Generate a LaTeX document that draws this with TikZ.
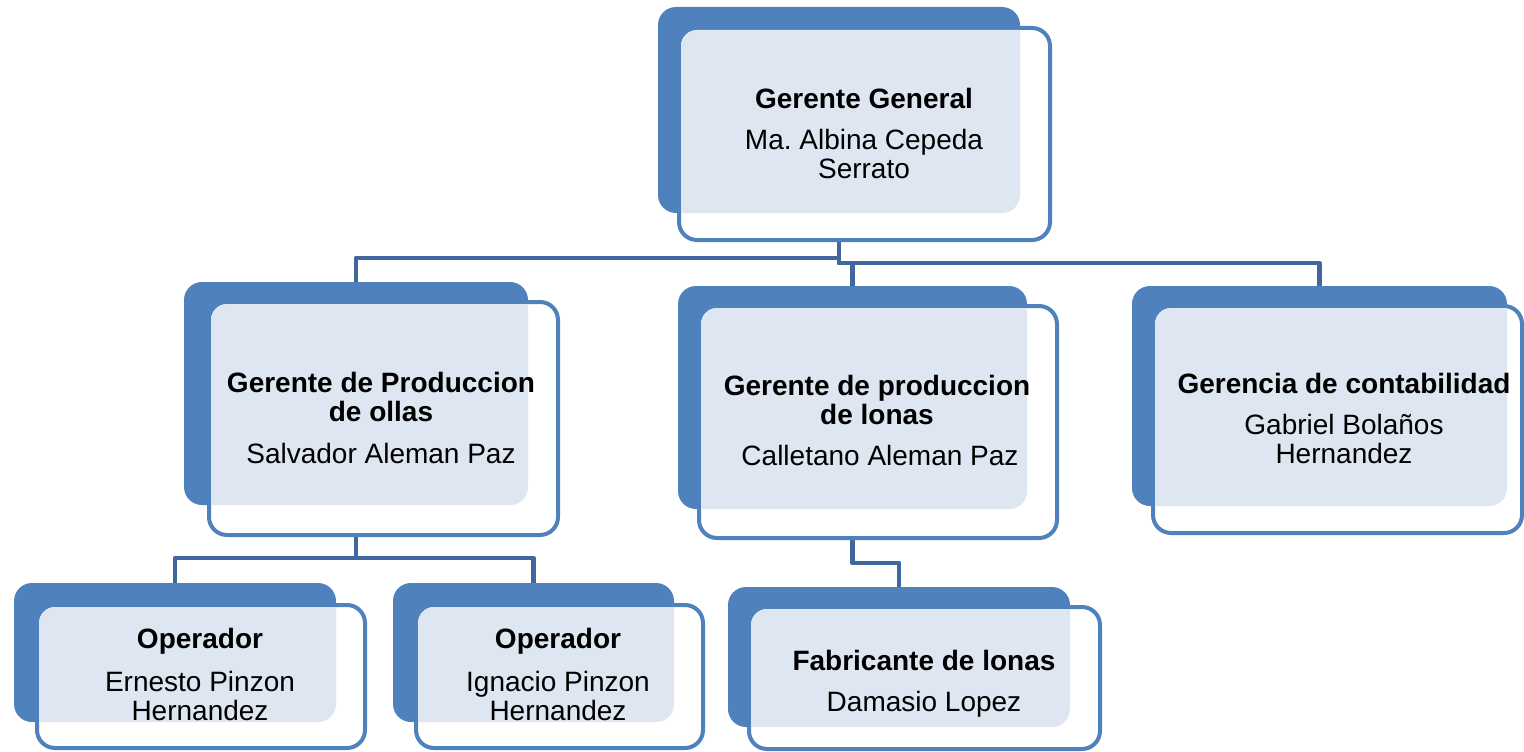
\documentclass[tikz,border=0pt]{standalone}
\usepackage{fontspec}
\setmainfont{Liberation Sans}
\frenchspacing
\pgfdeclarelayer{bg}
\pgfsetlayers{bg,main}
\definecolor{boxblue}{RGB}{79,129,189}
\definecolor{connblue}{RGB}{64,104,156}
\definecolor{patblue}{RGB}{221,230,241}
\tikzset{
  backbox/.style={rectangle, rounded corners=18pt, fill=boxblue, draw=none, inner sep=0pt, outer sep=0pt},
  frontbox/.style={rectangle, rounded corners=18pt, fill=white, draw=boxblue, line width=4pt, inner sep=0pt, outer sep=0pt},
  patfill/.style={fill=patblue},
  conn/.style={draw=connblue, line width=4.5pt, line join=round},
  ttl/.style={anchor=base, inner sep=0pt, font=\fontsize{28}{29}\selectfont\bfseries},
  txt/.style={anchor=base, inner sep=0pt, font=\fontsize{28}{29}\selectfont},
}
\newcommand\orgunit[9]{%
  \node[backbox, minimum width=#4pt, minimum height=#5pt] (#1b) at (#2,#3) {};
  \node[frontbox, minimum width=#8pt, minimum height=#9pt] (#1f) at (#6,#7) {};
  \begin{scope}
    \clip[rounded corners=18pt] (#1b.south west) rectangle (#1b.north east);
    \fill[patfill, rounded corners=16pt] ([shift={(2pt,2pt)}]#1f.south west) rectangle ([shift={(-2pt,-2pt)}]#1f.north east);
  \end{scope}%
}
\begin{document}
\begin{tikzpicture}[x=1pt,y=-1pt]
\useasboundingbox (0,0) rectangle (1524,752);

\coordinate (h1) at (0,258);
\coordinate (h2) at (0,263);
\coordinate (h3) at (0,558);
\coordinate (h4) at (0,563);

% boxes
\orgunit{T}{839}{110}{362}{206}{864.5}{134}{371}{212}
\orgunit{PA}{356}{393.5}{344}{223}{383.5}{418.5}{349}{233}
\orgunit{PB}{852.5}{397.5}{349}{223}{878}{422}{358}{232}
\orgunit{PC}{1319.5}{396}{375}{220}{1337.5}{419.5}{369}{227}
\orgunit{OA}{175}{652.5}{322}{139}{201}{676.5}{328}{143}
\orgunit{OB}{533.5}{652.5}{281}{139}{559.5}{676.5}{287}{143}
\orgunit{FA}{899}{657}{342}{140}{924.5}{678}{351}{142}

% connectors
\begin{pgfonlayer}{bg}
\fill[white] (0,0) rectangle (1524,752);
\draw[conn] (Tb.center) |- (PAb.north |- h1) -- (PAb.north);
\draw[conn] (Tb.center) |- (PBb.north |- h2) -- (PBb.north);
\draw[conn] (Tb.center) |- (PCb.north |- h2) -- (PCb.north);
\draw[conn] (PAb.center) |- (OAb.north |- h3) -- (OAb.north);
\draw[conn] (PAb.center) |- (OBb.north |- h3) -- (OBb.north);
\draw[conn] (PBb.center) |- (FAb.north |- h4) -- (FAb.north);
\end{pgfonlayer}

% texts
\node[ttl] (t1) at (864,109) {Gerente General};
\node[txt] (t2) at (864,149) {Ma. Albina Cepeda};
\node[txt] (t3) at (864,178) {Serrato};

\node[ttl] (pa1) at (381,392) {Gerente de Produccion};
\node[ttl] (pa2) at (381,421) {de ollas};
\node[txt] (pa3) at (381,463) {Salvador Aleman Paz};

\node[ttl] (pb1) at (877,395) {Gerente de produccion};
\node[ttl] (pb2) at (877,424) {de lonas};
\node[txt] (pb3) at (880,465) {Calletano Aleman Paz};

\node[ttl] (pc1) at (1344,393) {Gerencia de contabilidad};
\node[txt] (pc2) at (1344,434) {Gabriel Bolaños};
\node[txt] (pc3) at (1344,463) {Hernandez};

\node[ttl] (oa1) at (200,648) {Operador};
\node[txt] (oa2) at (200,691) {Ernesto Pinzon};
\node[txt] (oa3) at (200,720) {Hernandez};

\node[ttl] (ob1) at (558,648) {Operador};
\node[txt] (ob2) at (558,691) {Ignacio Pinzon};
\node[txt] (ob3) at (558,720) {Hernandez};

\node[ttl] (fa1) at (924,670) {Fabricante de lonas};
\node[txt] (fa2) at (924,711) {Damasio Lopez};
\end{tikzpicture}
\end{document}
